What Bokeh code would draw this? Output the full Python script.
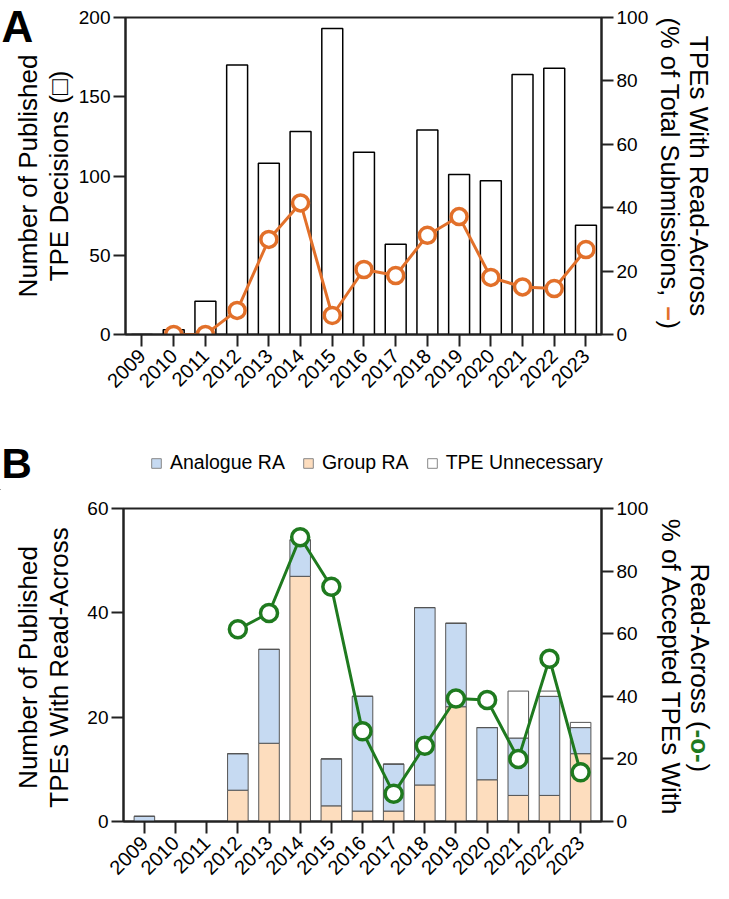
from math import pi
from bokeh.plotting import figure
from bokeh.models import (Range1d, LinearAxis, FixedTicker, Label, Legend,
                          LegendItem, ColumnDataSource)
from bokeh.layouts import column, row
from bokeh.embed import file_html
from bokeh.resources import INLINE

NAN = float("nan")

# ---------------- data ----------------
years = [str(y) for y in range(2009, 2024)]
x_idx = list(range(len(years)))

# Panel A
tpe_decisions = [0, 3, 21, 170, 108, 128, 193, 115, 57, 129, 101, 97, 164, 168, 69]
ra_pct_total = [NAN, 0, 0, 7.6, 30, 41.5, 6, 20.5, 18.6, 31.3, 37.2, 18, 15, 14.5, 26.8]

# Panel B
group_ra = [0, 0, 0, 6, 15, 47, 3, 2, 2, 7, 22, 8, 5, 5, 13]
analogue_ra = [1, 0, 0, 7, 18, 7, 9, 22, 9, 34, 16, 10, 11, 19, 5]
tpe_unnecessary = [0, 0, 0, 0, 0, 0, 0, 0, 0, 0, 0, 0, 9, 1, 1]
ra_pct_accepted = [NAN, NAN, NAN, 61.4, 66.6, 90.8, 75, 28.8, 8.9, 24.2, 39.3, 38.8, 20, 52, 15.7]

left_ticks_a = [0, 50, 100, 150, 200]
left_ticks_b = [0, 20, 40, 60]
pct_ticks = [0, 20, 40, 60, 80, 100]

FONT = "Liberation Sans"
ORANGE = "#E2702A"
GREEN = "#1F7A1F"
BLUE = "#C6DAF2"
PEACH = "#FDDDBE"
AX = "#222222"

LW, MW, RW = 75, 576, 62   # left strip, main figure, right strip widths (sum 713)


def style_axis(ax, size="19px", standoff=3):
    ax.axis_line_color = AX
    ax.axis_line_width = 2
    ax.major_tick_line_color = AX
    ax.major_tick_line_width = 2
    ax.major_tick_out = 12
    ax.major_tick_in = 0
    ax.minor_tick_out = 0
    ax.minor_tick_in = 0
    ax.major_label_text_font = FONT
    ax.major_label_text_font_size = size
    ax.major_label_text_color = "black"
    ax.major_label_standoff = standoff


def make_fig(height, top, bottom, x0, x1, ymax, lticks):
    p = figure(width=MW, height=height, output_backend="svg", toolbar_location=None,
               x_range=Range1d(x0, x1), y_range=Range1d(0, ymax),
               min_border_left=48, min_border_right=50,
               min_border_top=top, min_border_bottom=bottom)
    p.frame_align = False
    p.extra_y_ranges = {"pct": Range1d(0, 100)}
    p.xgrid.visible = False
    p.ygrid.visible = False
    p.outline_line_color = AX
    p.outline_line_width = 2
    p.background_fill_color = "white"
    p.border_fill_color = "white"
    p.xaxis.ticker = FixedTicker(ticks=x_idx)
    p.xaxis.major_label_overrides = {i: years[i] for i in x_idx}
    p.xaxis.major_label_orientation = pi / 4
    p.yaxis.ticker = FixedTicker(ticks=lticks)
    right = LinearAxis(y_range_name="pct", ticker=FixedTicker(ticks=pct_ticks))
    p.add_layout(right, "right")
    for ax in p.yaxis:
        style_axis(ax)
    for ax in p.xaxis:
        style_axis(ax, size="20px", standoff=6)
    return p


def strip(w, h):
    s = figure(width=w, height=h, output_backend="svg", toolbar_location=None,
               x_range=Range1d(0, w), y_range=Range1d(0, h),
               x_axis_type=None, y_axis_type=None,
               min_border=0, min_border_left=0, min_border_right=0,
               min_border_top=0, min_border_bottom=0)
    s.frame_align = False
    s.xgrid.visible = False
    s.ygrid.visible = False
    s.outline_line_color = None
    s.background_fill_color = "white"
    s.border_fill_color = "white"
    return s


def lab(p, text, x, y, angle, align="center", size="26px", color="black",
        style="normal", baseline="middle"):
    p.add_layout(Label(x=x, y=y, text=text, angle=angle,
                       text_align=align, text_baseline=baseline, text_font=FONT,
                       text_font_size=size, text_color=color, text_font_style=style))


# ---------------- Panel A ----------------
HA = 436
pa = make_fig(HA, 17, HA - 334, -0.52, 14.49, 200, left_ticks_a)
src_a = ColumnDataSource(dict(x=x_idx, n=tpe_decisions, pct=ra_pct_total))
pa.vbar(x="x", top="n", width=0.66, source=src_a, fill_color="white",
        line_color="black", line_width=1.5)
pa.line(x="x", y="pct", source=src_a, y_range_name="pct", line_color=ORANGE, line_width=3)
pa.scatter(x="x", y="pct", source=src_a, y_range_name="pct", size=16,
           fill_color="white", line_color=ORANGE, line_width=3.5)

cya = HA - 175.5
la = strip(LW, HA)
lab(la, "A", 1, HA - 26, 0, align="left", size="44px", style="bold")
lab(la, "Number of Published", 27, cya, pi / 2)
lab(la, "TPE Decisions (\u25a1)", 58, cya, pi / 2)

ra = strip(RW, HA)
lab(ra, "TPEs With Read-Across", 47, cya, -pi / 2)
lab(ra, "(% of Total Submissions, ", 18, HA - 17, -pi / 2, align="left", size="25.5px")
lab(ra, "\u2013", 18, HA - 17 - 289, -pi / 2, align="left", size="25.5px",
    color=ORANGE, style="bold")
lab(ra, " )", 18, HA - 17 - 303, -pi / 2, align="left", size="25.5px")

# ---------------- Panel B header (letter + legend) ----------------
HT = 54
tb = strip(LW + MW + RW, HT)
lab(tb, "B", 1, HT - (463 - HA), 0, align="left", size="42px", style="bold")
sw = [tb.vbar(x=[-50], top=[1], width=1, fill_color=c, line_color="#888888", line_width=1)
      for c in (BLUE, PEACH, "white")]
legend = Legend(items=[LegendItem(label="Analogue RA", renderers=[sw[0]]),
                       LegendItem(label="Group RA", renderers=[sw[1]]),
                       LegendItem(label="TPE Unnecessary", renderers=[sw[2]])],
                orientation="horizontal", location=(150, HT - (462 - HA) - 12),
                glyph_width=12, glyph_height=12, label_standoff=8, spacing=17,
                padding=0, margin=0, border_line_color=None,
                background_fill_alpha=0, label_text_font=FONT,
                label_text_color="black", label_text_font_size="19.5px")
tb.add_layout(legend, "center")

# ---------------- Panel B ----------------
y0b = HA + HT
HB = 883 - y0b
pb = make_fig(HB, 508 - y0b, HB - (826 - y0b), -0.67, 14.67, 60, left_ticks_b)
src_b = ColumnDataSource(dict(x=x_idx, group=group_ra, analogue=analogue_ra,
                              unnec=tpe_unnecessary, pct=ra_pct_accepted))
rs = pb.vbar_stack(["group", "analogue", "unnec"], x="x", width=0.66, source=src_b,
                   fill_color=[PEACH, BLUE, "white"], line_color="#555555", line_width=1)
pb.line(x="x", y="pct", source=src_b, y_range_name="pct", line_color=GREEN, line_width=3)
pb.scatter(x="x", y="pct", source=src_b, y_range_name="pct", size=17,
           fill_color="white", line_color=GREEN, line_width=3.5)

cyb = HB - (667 - y0b)
lb = strip(LW, HB)
lab(lb, "Number of Published", 27, cyb, pi / 2)
lab(lb, "TPEs With Read-Across", 58, cyb, pi / 2)

rb = strip(RW, HB)
top2 = HB - (563 - y0b)
lab(rb, "% of Accepted TPEs With", 19, cyb, -pi / 2)
lab(rb, "Read-Across (", 48, top2, -pi / 2, align="left")
lab(rb, "-o-", 48, top2 - 166, -pi / 2, align="left", color=GREEN, style="bold")
lab(rb, ")", 48, top2 - 200, -pi / 2, align="left")

layout = column(row(la, pa, ra, spacing=0), tb, row(lb, pb, rb, spacing=0), spacing=0)
open("out.html", "w").write(file_html(layout, INLINE))
